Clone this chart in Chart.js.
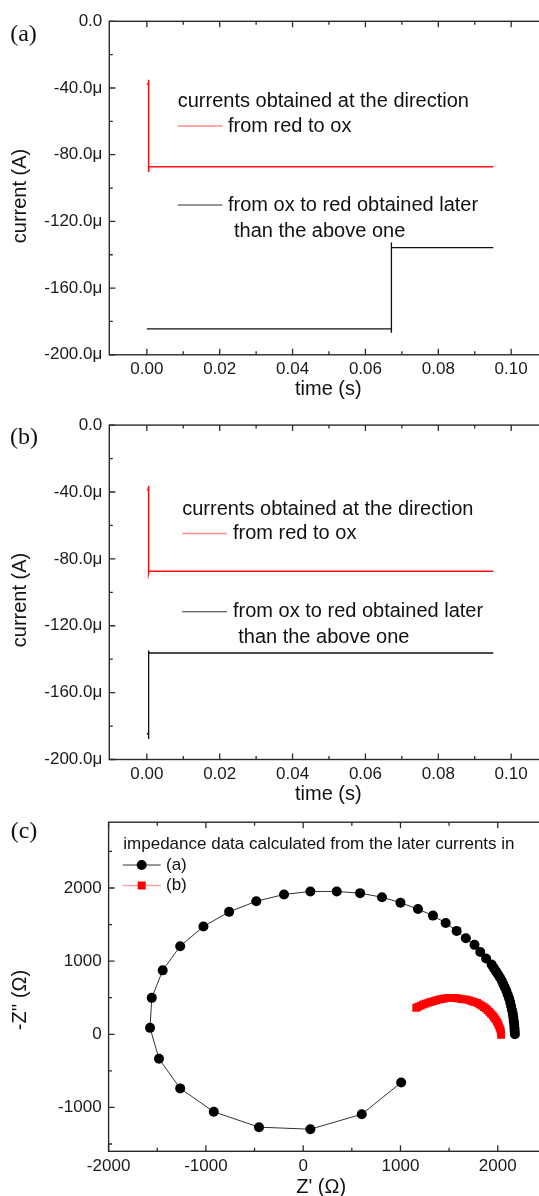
<!DOCTYPE html>
<html><head><meta charset="utf-8">
<script src="https://cdn.jsdelivr.net/npm/chart.js@4.4.1/dist/chart.umd.min.js"></script>
<style>
html,body{margin:0;padding:0;background:#fff;overflow:hidden;width:539px;height:1196px;position:relative;}
canvas{position:absolute;left:0;}
</style></head><body>
<canvas id="ca" width="560" height="405" style="top:0px"></canvas>
<canvas id="cb" width="560" height="400" style="top:405px"></canvas>
<canvas id="cc" width="560" height="391" style="top:805px"></canvas>
<script>
// ---------- data ----------
// panel (a): time (s) and current (µA)
const redA_t   = [0, 0.0005, 0.0005, 0.0005, 0.0006, 0.0951];
const redA_i   = [-37.7, -37.7, -35.1, -90.3, -87.2, -87.2];
const blackA_t = [0, 0.0671, 0.0671, 0.0671, 0.0672, 0.0951];
const blackA_i = [-184.5, -184.5, -186.8, -132.6, -135.7, -135.7];
// panel (b)
const redB_t   = [0, 0.0005, 0.0005, 0.0005, 0.0006, 0.0951];
const redB_i   = [-38.6, -38.6, -36.2, -88.4, -87.4, -87.4];
const blackB_t = [0, 0.0005, 0.0005, 0.0005, 0.0006, 0.0951];
const blackB_i = [-184.6, -184.6, -187.7, -134.8, -136.3, -136.3];
// panel (c): impedance, Z' and -Z'' (ohm)
const zA_re = [1007, 602, 74, -454, -919, -1264, -1482, -1574, -1556, -1444, -1264, -1025, -761, -482, -197, 74, 345, 585, 810, 1000, 1180, 1334, 1465, 1577, 1672, 1761, 1820, 1880, 1937, 1960, 1982, 2002, 2021, 2040, 2056, 2072, 2088, 2102, 2116, 2127, 2137, 2146, 2155, 2160, 2165, 2169, 2172, 2174, 2176];
const zA_im = [-660, -1093, -1298, -1270, -1060, -740, -335, 88, 498, 874, 1205, 1474, 1674, 1819, 1912, 1953, 1953, 1930, 1874, 1800, 1712, 1623, 1521, 1414, 1312, 1223, 1126, 1037, 953, 905, 860, 820, 781, 735, 688, 642, 595, 545, 493, 440, 386, 332, 279, 228, 177, 130, 84, 40, 0];
const zB_re = [1162, 1185, 1210, 1235, 1261, 1288, 1315, 1340, 1366, 1393, 1420, 1446, 1472, 1498, 1524, 1550, 1577, 1603, 1630, 1656, 1683, 1709, 1736, 1762, 1789, 1812, 1835, 1857, 1877, 1895, 1913, 1930, 1947, 1961, 1975, 1988, 2000, 2010, 2019, 2028, 2032, 2035];
const zB_im = [363, 378, 393, 408, 419, 432, 443, 452, 465, 474, 481, 487, 493, 496, 497, 495, 493, 488, 482, 478, 474, 463, 450, 440, 428, 410, 392, 372, 353, 330, 305, 283, 260, 233, 207, 180, 153, 122, 92, 60, 28, -9];
// ticks
const timeMajorTicks = [0, 0.02, 0.04, 0.06, 0.08, 0.10];
const timeMinorTicks = [0.01, 0.03, 0.05, 0.07, 0.09];
const currentMajorTicks = [-200, -160, -120, -80, -40, 0];
const currentMinorTicks = [-180, -140, -100, -60, -20];
const zReMajorTicks = [-2000, -1000, 0, 1000, 2000];
const zReMinorTicks = [-1500, -500, 500, 1500];
const zImMajorTicks = [-1000, 0, 1000, 2000];
const zImMinorTicks = [-1500, -500, 500, 1500, 2500];

const SANS = "'Liberation Sans', Arial, sans-serif";
const SERIF = "'Liberation Serif', 'Times New Roman', serif";

function pts(xs, ys){ return xs.map((x,i)=>({x:x, y:ys[i]})); }
function isMajor(v, majors){ return majors.some(m => Math.abs(m - v) < 1e-9); }

function axis(min, max, majors, minors, fmt, fixedSize, isX, pad){
  return {
    type:'linear', min:min, max:max,
    grid:{display:false, drawTicks:false},
    border:{display:false},
    afterBuildTicks(s){ s.ticks = majors.concat(minors).sort((a,b)=>a-b).map(v=>({value:v})); },
    afterFit(s){ if(isX) s.height = fixedSize; else s.width = fixedSize; },
    ticks:{
      autoSkip:false, maxRotation:0, padding:pad, color:'#1a1a1a',
      font:{family:SANS, size:17},
      callback(v){ return isMajor(v, majors) ? fmt(v) : ''; }
    }
  };
}

function deco(spec){
  return {
    id:'deco'+spec.id,
    afterDatasetsDraw(chart){
      const ctx = chart.ctx, a = chart.chartArea;
      const xs = chart.scales.x, ys = chart.scales.y;
      const off = spec.offset;
      ctx.save();
      ctx.strokeStyle = '#2a2a2a';
      ctx.lineWidth = 1.4;
      ctx.strokeRect(a.left, a.top, a.right - a.left, a.bottom - a.top);
      ctx.lineWidth = 1.3;
      ctx.beginPath();
      spec.xMajor.concat(spec.xMinor).forEach(v=>{
        const len = isMajor(v, spec.xMajor) ? 6 : 3.5;
        const x = xs.getPixelForValue(v);
        ctx.moveTo(x, a.bottom); ctx.lineTo(x, a.bottom - len);
        ctx.moveTo(x, a.top); ctx.lineTo(x, a.top + len);
      });
      spec.yMajor.concat(spec.yMinor).forEach(v=>{
        const len = isMajor(v, spec.yMajor) ? 6 : 3.5;
        const y = ys.getPixelForValue(v);
        ctx.moveTo(a.left, y); ctx.lineTo(a.left + len, y);
      });
      ctx.stroke();
      // panel label
      ctx.fillStyle = '#111';
      ctx.textBaseline = 'middle';
      ctx.textAlign = 'center';
      ctx.font = '24px ' + SERIF;
      ctx.fillText(spec.panel, spec.panelPos[0], spec.panelPos[1] - off);
      // axis titles
      ctx.font = '20px ' + SANS;
      ctx.fillText(spec.xTitle, spec.xTitlePos[0], spec.xTitlePos[1] - off);
      ctx.save();
      ctx.translate(spec.yTitlePos[0], spec.yTitlePos[1] - off);
      ctx.rotate(-Math.PI/2);
      ctx.fillText(spec.yTitle, 0, 0);
      ctx.restore();
      // legend
      ctx.textAlign = 'left';
      spec.legend.forEach(it=>{
        const y = it.y - off;
        if (it.line){
          ctx.strokeStyle = it.line; ctx.lineWidth = it.lw || 1.2;
          ctx.beginPath(); ctx.moveTo(it.x0, y); ctx.lineTo(it.x1, y); ctx.stroke();
        }
        if (it.marker === 'circle'){
          ctx.fillStyle = '#000'; ctx.beginPath(); ctx.arc(it.mx, y, 5, 0, Math.PI*2); ctx.fill();
        } else if (it.marker === 'rect'){
          ctx.fillStyle = '#ff0000'; ctx.fillRect(it.mx - 4, y - 4, 8, 8);
        }
        if (it.text){
          ctx.fillStyle = '#111';
          ctx.font = it.font;
          ctx.fillText(it.text, it.tx, y);
        }
      });
      ctx.restore();
    }
  };
}

const fmtCur = v => v === 0 ? '0.0' : v.toFixed(1) + 'μ';
const fmtTime = v => v.toFixed(2);
const fmtZ = v => String(v);

function currentChart(id, offset, areaTop, areaBottom, canvasH, red_t, red_i, black_t, black_i, spec){
  return new Chart(document.getElementById(id), {
    type:'scatter',
    data:{datasets:[
      {data:pts(red_t, red_i), showLine:true, borderColor:'#ff1010', borderWidth:1.6, pointRadius:0, tension:0},
      {data:pts(black_t, black_i), showLine:true, borderColor:'#111', borderWidth:1.3, pointRadius:0, tension:0}
    ]},
    options:{
      responsive:false, animation:false, events:[],
      layout:{padding:{left:0, right:12.4, top:areaTop - offset, bottom:0}},
      plugins:{legend:{display:false}, tooltip:{enabled:false}},
      scales:{
        x: axis(-0.0103, 0.11, timeMajorTicks, timeMinorTicks, fmtTime, canvasH - (areaBottom - offset), true, 4.5),
        y: axis(-200, 0, currentMajorTicks, currentMinorTicks, fmtCur, 109.3, false, 7)
      }
    },
    plugins:[deco(spec)]
  });
}

const F20 = '20px ' + SANS, F17 = '17px ' + SANS;

currentChart('ca', 0, 21.3, 354.8, 405, redA_t, redA_i, blackA_t, blackA_i, {
  id:'a', offset:0, panel:'(a)', panelPos:[23.5, 34.4],
  xTitle:'time (s)', xTitlePos:[328.3, 389], yTitle:'current (A)', yTitlePos:[20.6, 196],
  xMajor:timeMajorTicks, xMinor:timeMinorTicks, yMajor:currentMajorTicks, yMinor:currentMinorTicks,
  legend:[
    {y:101.5, text:'currents obtained at the direction', tx:177.7, font:F20},
    {y:126, line:'#ff8a8a', lw:1.5, x0:177.7, x1:222.4, text:'from red to ox', tx:228, font:F20},
    {y:205, line:'#333', lw:1.1, x0:177.7, x1:222.4, text:'from ox to red obtained later', tx:228, font:F20},
    {y:231, text:'than the above one', tx:234, font:F20}
  ]
});

currentChart('cb', 405, 425.1, 759.5, 400, redB_t, redB_i, blackB_t, blackB_i, {
  id:'b', offset:405, panel:'(b)', panelPos:[24, 438],
  xTitle:'time (s)', xTitlePos:[328.3, 794], yTitle:'current (A)', yTitlePos:[20.6, 600],
  xMajor:timeMajorTicks, xMinor:timeMinorTicks, yMajor:currentMajorTicks, yMinor:currentMinorTicks,
  legend:[
    {y:509, text:'currents obtained at the direction', tx:182.2, font:F20},
    {y:533.5, line:'#ff8a8a', lw:1.5, x0:182.2, x1:226.9, text:'from red to ox', tx:233, font:F20},
    {y:611.7, line:'#333', lw:1.1, x0:182.2, x1:226.9, text:'from ox to red obtained later', tx:233, font:F20},
    {y:637.5, text:'than the above one', tx:238.2, font:F20}
  ]
});

new Chart(document.getElementById('cc'), {
  type:'scatter',
  data:{datasets:[
    {data:pts(zA_re, zA_im), showLine:true, borderColor:'#333', borderWidth:1, pointRadius:5, pointStyle:'circle', pointBackgroundColor:'#000', pointBorderWidth:0, tension:0},
    {data:pts(zB_re, zB_im), showLine:true, borderColor:'rgba(255,0,0,0.4)', borderWidth:1, pointRadius:5.5, pointStyle:'rect', pointBackgroundColor:'#ff0000', pointBorderWidth:0, tension:0}
  ]},
  options:{
    responsive:false, animation:false, events:[],
    layout:{padding:{left:0, right:560 - 546.4, top:818.9 - 805, bottom:0}},
    plugins:{legend:{display:false}, tooltip:{enabled:false}},
    scales:{
      x: axis(-2000, 2500, zReMajorTicks, zReMinorTicks, fmtZ, 391 - (1151.3 - 805), true, 4.5),
      y: axis(-1600, 2900, zImMajorTicks, zImMinorTicks, fmtZ, 108.6, false, 7)
    }
  },
  plugins:[deco({
    id:'c', offset:805, panel:'(c)', panelPos:[24, 832],
    xTitle:"Z' (Ω)", xTitlePos:[321.2, 1187], yTitle:"-Z'' (Ω)", yTitlePos:[20, 1000],
    xMajor:zReMajorTicks, xMinor:zReMinorTicks, yMajor:zImMajorTicks, yMinor:zImMinorTicks,
    legend:[
      {y:844, text:'impedance data calculated from the later currents in', tx:123.3, font:F17},
      {y:865, line:'#333', lw:1, x0:122.7, x1:160.7, marker:'circle', mx:141.7, text:'(a)', tx:166, font:F17},
      {y:885.5, line:'rgba(255,80,80,0.55)', lw:1.5, x0:122.7, x1:160.7, marker:'rect', mx:141.7, text:'(b)', tx:166, font:F17}
    ]
  })]
});
</script>
</body></html>
